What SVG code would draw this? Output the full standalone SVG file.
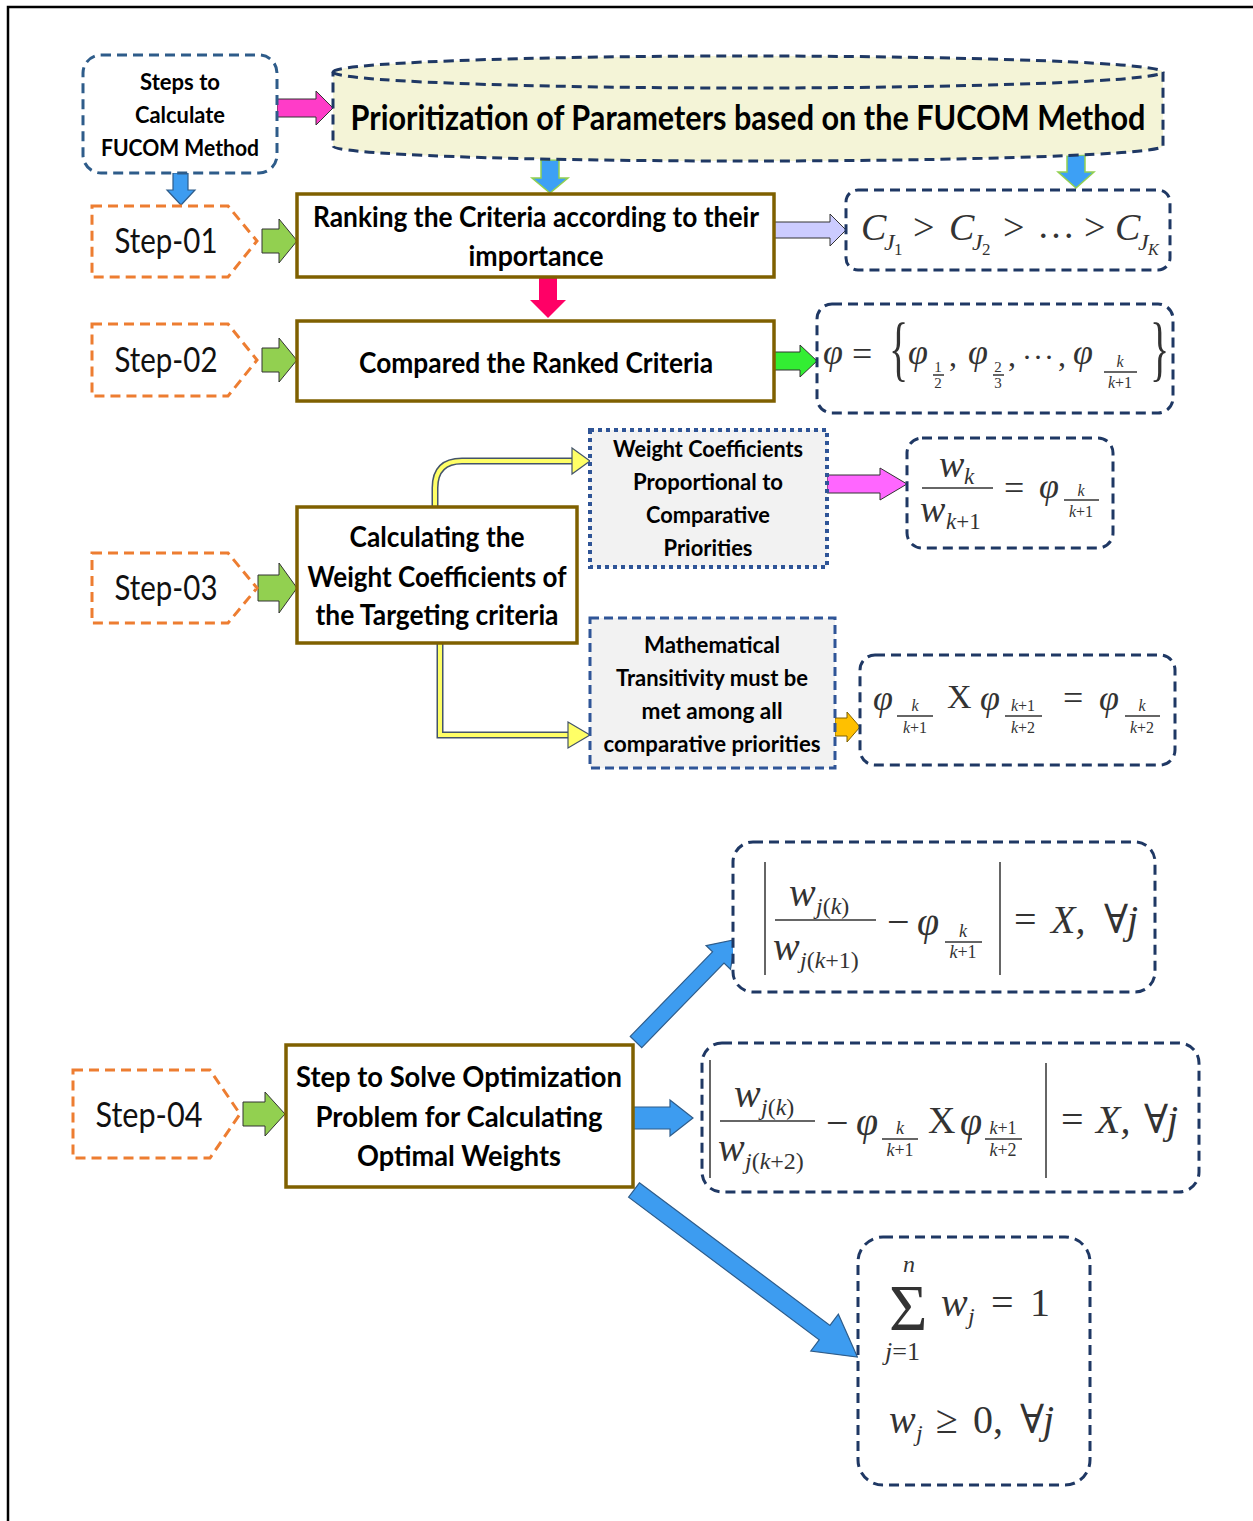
<svg xmlns="http://www.w3.org/2000/svg" width="1253" height="1521" viewBox="0 0 1253 1521">
<style>
.lb{font-family:Lato,"Liberation Sans",sans-serif;font-weight:bold;fill:#000;text-anchor:middle}
.st{font-family:Lato,"Liberation Sans",sans-serif;font-size:34px;fill:#111;text-anchor:middle}
.m{font-family:"Liberation Serif","DejaVu Serif",serif;font-style:italic;fill:#333}
.r{font-family:"Liberation Serif","DejaVu Serif",serif;fill:#333}
.nav{fill:#fff;stroke:#1f3864;stroke-width:3;stroke-dasharray:10 6}
.org{fill:#fff;stroke:#ed7d31;stroke-width:3;stroke-dasharray:10 6}
.brn{fill:#fff;stroke:#7f6000;stroke-width:3.5}
.ln{stroke:#333;stroke-width:1.5}
.grn{fill:#92d050;stroke:#333;stroke-width:1}
.blu{fill:#3d9cf0;stroke:#2e5c8a;stroke-width:1.2}
.bg{fill:#3da0f5;stroke:#92d050;stroke-width:1.5}
</style>
<rect width="1253" height="1521" fill="#fff"/>
<rect x="8" y="7" width="1300" height="1600" fill="none" stroke="#000" stroke-width="2.5"/>

<g id="connectors">
  <polygon points="277,99 316,99 316,91 333,108 316,125 316,117 277,117" fill="#ff3cc8" stroke="#333" stroke-width="1"/>
  <polygon points="173,173 188,173 188,190 195,190 181,205 167,190 173,190" class="blu"/>
  <polygon points="541,160 559,160 559,178 568,178 550,193 532,178 541,178" class="bg"/>
  <polygon points="1067,155 1085,155 1085,172 1094,172 1076,188 1058,172 1067,172" class="bg"/>
  <polygon points="262,229 279,229 279,219 297,241 279,263 279,253 262,253" class="grn"/>
  <polygon points="262,348 279,348 279,338 297,360 279,382 279,372 262,372" class="grn"/>
  <polygon points="258,575 279,575 279,563 297,588 279,613 279,601 258,601" class="grn"/>
  <polygon points="243,1102 265,1102 265,1092 285,1114 265,1136 265,1126 243,1126" class="grn"/>
  <polygon points="774,222 830,222 830,214 846,230 830,246 830,238 774,238" fill="#ccccff" stroke="#333" stroke-width="1"/>
  <polygon points="539,278 557,278 557,300 566,300 548,318 530,300 539,300" fill="#ff0066"/>
  <polygon points="774,352 800,352 800,345 817,361 800,377 800,370 774,370" fill="#33ee33" stroke="#333" stroke-width="1"/>
  <polygon points="827,475 880,475 880,468 907,484 880,500 880,493 827,493" fill="#ff66ff" stroke="#333" stroke-width="1"/>
  <polygon points="835,718 847,718 847,712 860,727 847,742 847,736 835,736" fill="#ffc000" stroke="#7f6000" stroke-width="1"/>
  <path d="M435,507 V488 Q435,461 462,461 H573" fill="none" stroke="#44546a" stroke-width="7"/>
  <path d="M435,507 V488 Q435,461 462,461 H574" fill="none" stroke="#ffff66" stroke-width="4"/>
  <polygon points="572,448 590,461 572,474" fill="#ffff66" stroke="#44546a" stroke-width="1.2"/>
  <path d="M440,643 V735 H569" fill="none" stroke="#44546a" stroke-width="7"/>
  <path d="M440,643 V735 H570" fill="none" stroke="#ffff66" stroke-width="4"/>
  <polygon points="568,722 590,735 568,748" fill="#ffff66" stroke="#44546a" stroke-width="1.2"/>
  <polygon points="633,1107 670,1107 670,1100 693,1118 670,1136 670,1129 633,1129" class="blu"/>
  <polygon transform="translate(636,1042) rotate(-45.8)" points="0,-8 118,-8 118,-17 143,0 118,17 118,8 0,8" class="blu"/>
  <polygon transform="translate(634,1190) rotate(36.8)" points="0,-9 238,-9 238,-23 279,0 238,23 238,9 0,9" class="blu"/>
</g>

<g id="steps-box">
  <rect x="83" y="55" width="194" height="118" rx="18" fill="#fff" stroke="#2e5c8a" stroke-width="3" stroke-dasharray="10 6"/>
  <text class="lb" x="180" y="90" font-size="22" textLength="80" lengthAdjust="spacingAndGlyphs">Steps to</text>
  <text class="lb" x="180" y="123" font-size="22" textLength="90" lengthAdjust="spacingAndGlyphs">Calculate</text>
  <text class="lb" x="180" y="156" font-size="22" textLength="158" lengthAdjust="spacingAndGlyphs">FUCOM Method</text>
</g>

<g id="title">
  <path d="M333,72 A415,16 0 0,1 1163,72 V146 A415,15 0 0,1 333,146 Z" fill="#f4f4d7" stroke="#1f3864" stroke-width="3" stroke-dasharray="10 6"/>
  <path d="M333,72 A415,16 0 0,0 1163,72" fill="none" stroke="#1f3864" stroke-width="3" stroke-dasharray="10 6"/>
  <text class="lb" x="748" y="130" font-size="34" textLength="795" lengthAdjust="spacingAndGlyphs">Prioritization of Parameters based on the FUCOM Method</text>
</g>

<g id="step01">
  <polygon points="92,206 228,206 257,241 228,277 92,277" class="org"/>
  <text class="st" x="166" y="253" textLength="103" lengthAdjust="spacingAndGlyphs">Step-01</text>
</g>
<g id="step02">
  <polygon points="92,324 228,324 257,360 228,396 92,396" class="org"/>
  <text class="st" x="166" y="372" textLength="103" lengthAdjust="spacingAndGlyphs">Step-02</text>
</g>
<g id="step03">
  <polygon points="92,553 228,553 257,588 228,623 92,623" class="org"/>
  <text class="st" x="166" y="600" textLength="103" lengthAdjust="spacingAndGlyphs">Step-03</text>
</g>
<g id="step04">
  <polygon points="73,1070 210,1070 240,1114 210,1158 73,1158" class="org"/>
  <text class="st" x="149" y="1127" textLength="107" lengthAdjust="spacingAndGlyphs">Step-04</text>
</g>

<g id="ranking">
  <rect x="297" y="194" width="477" height="83" class="brn"/>
  <text class="lb" x="536" y="227" font-size="28" textLength="446" lengthAdjust="spacingAndGlyphs">Ranking the Criteria according to their</text>
  <text class="lb" x="536" y="266" font-size="28" textLength="135" lengthAdjust="spacingAndGlyphs">importance</text>
</g>
<g id="compared">
  <rect x="297" y="321" width="477" height="80" class="brn"/>
  <text class="lb" x="536" y="373" font-size="28" textLength="354" lengthAdjust="spacingAndGlyphs">Compared the Ranked Criteria</text>
</g>
<g id="calculating">
  <rect x="297" y="507" width="280" height="136" class="brn"/>
  <text class="lb" x="437" y="547" font-size="29" textLength="175" lengthAdjust="spacingAndGlyphs">Calculating the</text>
  <text class="lb" x="437" y="587" font-size="29" textLength="259" lengthAdjust="spacingAndGlyphs">Weight Coefficients of</text>
  <text class="lb" x="437" y="625" font-size="29" textLength="243" lengthAdjust="spacingAndGlyphs">the Targeting criteria</text>
</g>
<g id="solve">
  <rect x="286" y="1045" width="347" height="142" class="brn"/>
  <text class="lb" x="459" y="1087" font-size="29" textLength="326" lengthAdjust="spacingAndGlyphs">Step to Solve Optimization</text>
  <text class="lb" x="459" y="1127" font-size="29" textLength="287" lengthAdjust="spacingAndGlyphs">Problem for Calculating</text>
  <text class="lb" x="459" y="1166" font-size="29" textLength="204" lengthAdjust="spacingAndGlyphs">Optimal Weights</text>
</g>

<g id="weight-box">
  <rect x="590" y="430" width="237" height="137" fill="#f2f2f2" stroke="#2f5597" stroke-width="4" stroke-dasharray="4 4"/>
  <text class="lb" x="708" y="457" font-size="22" textLength="190" lengthAdjust="spacingAndGlyphs">Weight Coefficients</text>
  <text class="lb" x="708" y="490" font-size="22" textLength="150" lengthAdjust="spacingAndGlyphs">Proportional to</text>
  <text class="lb" x="708" y="523" font-size="22" textLength="124" lengthAdjust="spacingAndGlyphs">Comparative</text>
  <text class="lb" x="708" y="556" font-size="22" textLength="89" lengthAdjust="spacingAndGlyphs">Priorities</text>
</g>
<g id="math-box">
  <rect x="590" y="618" width="245" height="150" fill="#f2f2f2" stroke="#2f5597" stroke-width="3" stroke-dasharray="9 5"/>
  <text class="lb" x="712" y="653" font-size="22" textLength="136" lengthAdjust="spacingAndGlyphs">Mathematical</text>
  <text class="lb" x="712" y="686" font-size="22" textLength="192" lengthAdjust="spacingAndGlyphs">Transitivity must be</text>
  <text class="lb" x="712" y="719" font-size="22" textLength="141" lengthAdjust="spacingAndGlyphs">met among all</text>
  <text class="lb" x="712" y="752" font-size="22" textLength="217" lengthAdjust="spacingAndGlyphs">comparative priorities</text>
</g>

<g id="f-rank">
  <rect x="846" y="190" width="324" height="80" rx="12" class="nav"/>
  <text class="m" x="861" y="240" font-size="38">C</text>
  <text class="m" x="884" y="250" font-size="24">J</text><text class="r" x="894" y="255" font-size="17">1</text>
  <text class="r" x="913" y="240" font-size="38">&gt;</text>
  <text class="m" x="949" y="240" font-size="38">C</text>
  <text class="m" x="972" y="250" font-size="24">J</text><text class="r" x="982" y="255" font-size="17">2</text>
  <text class="r" x="1003" y="240" font-size="38">&gt;</text>
  <text class="r" x="1037" y="238" font-size="38">…</text>
  <text class="r" x="1084" y="240" font-size="38">&gt;</text>
  <text class="m" x="1115" y="240" font-size="38">C</text>
  <text class="m" x="1138" y="250" font-size="24">J</text><text class="m" x="1148" y="255" font-size="16">K</text>
</g>

<g id="f-phi">
  <rect x="817" y="304" width="356" height="109" rx="15" class="nav"/>
  <text class="m" x="823" y="364" font-size="36">φ</text>
  <text class="r" x="852" y="366" font-size="36">=</text>
  <text class="r" transform="translate(889,372) scale(1,1.8)" font-size="40">{</text>
  <text class="m" x="908" y="364" font-size="36">φ</text>
  <text class="r" x="938" y="372" font-size="15" text-anchor="middle">1</text>
  <line x1="933" y1="375" x2="944" y2="375" class="ln" stroke-width="1"/>
  <text class="r" x="938" y="388" font-size="15" text-anchor="middle">2</text>
  <text class="r" x="949" y="366" font-size="32">,</text>
  <text class="m" x="968" y="364" font-size="36">φ</text>
  <text class="r" x="998" y="372" font-size="15" text-anchor="middle">2</text>
  <line x1="993" y1="375" x2="1004" y2="375" class="ln" stroke-width="1"/>
  <text class="r" x="998" y="388" font-size="15" text-anchor="middle">3</text>
  <text class="r" x="1008" y="366" font-size="32">,</text>
  <text class="r" x="1022" y="367" font-size="30">·</text>
  <text class="r" x="1033" y="367" font-size="30">·</text>
  <text class="r" x="1044" y="367" font-size="30">·</text>
  <text class="r" x="1058" y="366" font-size="32">,</text>
  <text class="m" x="1073" y="364" font-size="36">φ</text>
  <text class="m" x="1120" y="367" font-size="16" text-anchor="middle">k</text>
  <line x1="1104" y1="372" x2="1137" y2="372" class="ln" stroke-width="1"/>
  <text x="1120" y="388" font-size="16" text-anchor="middle"><tspan class="m">k</tspan><tspan class="r">+1</tspan></text>
  <text class="r" transform="translate(1150,372) scale(1,1.8)" font-size="40">}</text>
</g>

<g id="f-wk">
  <rect x="907" y="438" width="206" height="110" rx="15" class="nav"/>
  <text class="m" x="939" y="477" font-size="38">w</text>
  <text class="m" x="964" y="484" font-size="23">k</text>
  <line x1="922" y1="488" x2="993" y2="488" class="ln"/>
  <text class="m" x="920" y="522" font-size="38">w</text>
  <text x="946" y="529" font-size="23"><tspan class="m">k</tspan><tspan class="r">+1</tspan></text>
  <text class="r" x="1004" y="500" font-size="36">=</text>
  <text class="m" x="1039" y="498" font-size="36">φ</text>
  <text class="m" x="1081" y="496" font-size="16" text-anchor="middle">k</text>
  <line x1="1064" y1="500" x2="1099" y2="500" class="ln" stroke-width="1"/>
  <text x="1081" y="517" font-size="16" text-anchor="middle"><tspan class="m">k</tspan><tspan class="r">+1</tspan></text>
</g>

<g id="f-trans">
  <rect x="860" y="655" width="315" height="110" rx="15" class="nav"/>
  <text class="m" x="873" y="710" font-size="36">φ</text>
  <text class="m" x="915" y="711" font-size="16" text-anchor="middle">k</text>
  <line x1="897" y1="716" x2="933" y2="716" class="ln" stroke-width="1"/>
  <text x="915" y="733" font-size="16" text-anchor="middle"><tspan class="m">k</tspan><tspan class="r">+1</tspan></text>
  <text class="r" x="947" y="708" font-size="34">X</text>
  <text class="m" x="980" y="710" font-size="36">φ</text>
  <text x="1023" y="711" font-size="16" text-anchor="middle"><tspan class="m">k</tspan><tspan class="r">+1</tspan></text>
  <line x1="1005" y1="716" x2="1042" y2="716" class="ln" stroke-width="1"/>
  <text x="1023" y="733" font-size="16" text-anchor="middle"><tspan class="m">k</tspan><tspan class="r">+2</tspan></text>
  <text class="r" x="1063" y="710" font-size="36">=</text>
  <text class="m" x="1099" y="710" font-size="36">φ</text>
  <text class="m" x="1142" y="711" font-size="16" text-anchor="middle">k</text>
  <line x1="1125" y1="716" x2="1160" y2="716" class="ln" stroke-width="1"/>
  <text x="1142" y="733" font-size="16" text-anchor="middle"><tspan class="m">k</tspan><tspan class="r">+2</tspan></text>
</g>

<g id="f-opt1">
  <rect x="733" y="842" width="422" height="150" rx="20" class="nav"/>
  <line x1="765" y1="862" x2="765" y2="975" class="ln"/>
  <text class="m" x="789" y="906" font-size="40">w</text>
  <text x="816" y="914" font-size="24"><tspan class="m">j</tspan><tspan class="r">(</tspan><tspan class="m">k</tspan><tspan class="r">)</tspan></text>
  <line x1="775" y1="920" x2="876" y2="920" class="ln"/>
  <text class="m" x="773" y="960" font-size="40">w</text>
  <text x="800" y="968" font-size="24"><tspan class="m">j</tspan><tspan class="r">(</tspan><tspan class="m">k</tspan><tspan class="r">+1)</tspan></text>
  <text class="r" x="887" y="935" font-size="40">−</text>
  <text class="m" x="917" y="935" font-size="40">φ</text>
  <text class="m" x="963" y="937" font-size="18" text-anchor="middle">k</text>
  <line x1="945" y1="942" x2="982" y2="942" class="ln" stroke-width="1"/>
  <text x="963" y="958" font-size="18" text-anchor="middle"><tspan class="m">k</tspan><tspan class="r">+1</tspan></text>
  <line x1="1000" y1="862" x2="1000" y2="975" class="ln"/>
  <text class="r" x="1014" y="933" font-size="40">=</text>
  <text class="m" x="1051" y="933" font-size="40">X,</text>
  <text class="r" x="1104" y="933" font-size="40">∀</text>
  <text class="m" x="1127" y="933" font-size="40">j</text>
</g>

<g id="f-opt2">
  <rect x="702" y="1043" width="497" height="149" rx="20" class="nav"/>
  <line x1="710" y1="1060" x2="710" y2="1178" class="ln"/>
  <text class="m" x="734" y="1107" font-size="40">w</text>
  <text x="761" y="1115" font-size="24"><tspan class="m">j</tspan><tspan class="r">(</tspan><tspan class="m">k</tspan><tspan class="r">)</tspan></text>
  <line x1="720" y1="1121" x2="815" y2="1121" class="ln"/>
  <text class="m" x="718" y="1161" font-size="40">w</text>
  <text x="745" y="1169" font-size="24"><tspan class="m">j</tspan><tspan class="r">(</tspan><tspan class="m">k</tspan><tspan class="r">+2)</tspan></text>
  <text class="r" x="826" y="1136" font-size="40">−</text>
  <text class="m" x="856" y="1135" font-size="40">φ</text>
  <text class="m" x="900" y="1134" font-size="18" text-anchor="middle">k</text>
  <line x1="882" y1="1139" x2="918" y2="1139" class="ln" stroke-width="1"/>
  <text x="900" y="1156" font-size="18" text-anchor="middle"><tspan class="m">k</tspan><tspan class="r">+1</tspan></text>
  <text class="r" x="928" y="1133" font-size="38">X</text>
  <text class="m" x="960" y="1135" font-size="40">φ</text>
  <text x="1003" y="1134" font-size="18" text-anchor="middle"><tspan class="m">k</tspan><tspan class="r">+1</tspan></text>
  <line x1="985" y1="1139" x2="1022" y2="1139" class="ln" stroke-width="1"/>
  <text x="1003" y="1156" font-size="18" text-anchor="middle"><tspan class="m">k</tspan><tspan class="r">+2</tspan></text>
  <line x1="1046" y1="1063" x2="1046" y2="1178" class="ln"/>
  <text class="r" x="1061" y="1133" font-size="40">=</text>
  <text class="m" x="1096" y="1133" font-size="40">X,</text>
  <text class="r" x="1144" y="1133" font-size="40">∀</text>
  <text class="m" x="1167" y="1133" font-size="40">j</text>
</g>

<g id="f-opt3">
  <rect x="858" y="1237" width="232" height="248" rx="25" class="nav"/>
  <text class="m" x="903" y="1272" font-size="24">n</text>
  <text class="r" x="889" y="1330" font-size="66">Σ</text>
  <text x="885" y="1360" font-size="26"><tspan class="m">j</tspan><tspan class="r">=1</tspan></text>
  <text class="m" x="941" y="1316" font-size="40">w</text>
  <text class="m" x="968" y="1324" font-size="24">j</text>
  <text class="r" x="991" y="1316" font-size="40">=</text>
  <text class="r" x="1030" y="1316" font-size="40">1</text>
  <text class="m" x="889" y="1433" font-size="40">w</text>
  <text class="m" x="916" y="1441" font-size="24">j</text>
  <text class="r" x="936" y="1433" font-size="40">≥</text>
  <text class="r" x="973" y="1433" font-size="40">0,</text>
  <text class="r" x="1020" y="1433" font-size="40">∀</text>
  <text class="m" x="1043" y="1433" font-size="40">j</text>
</g>
</svg>
